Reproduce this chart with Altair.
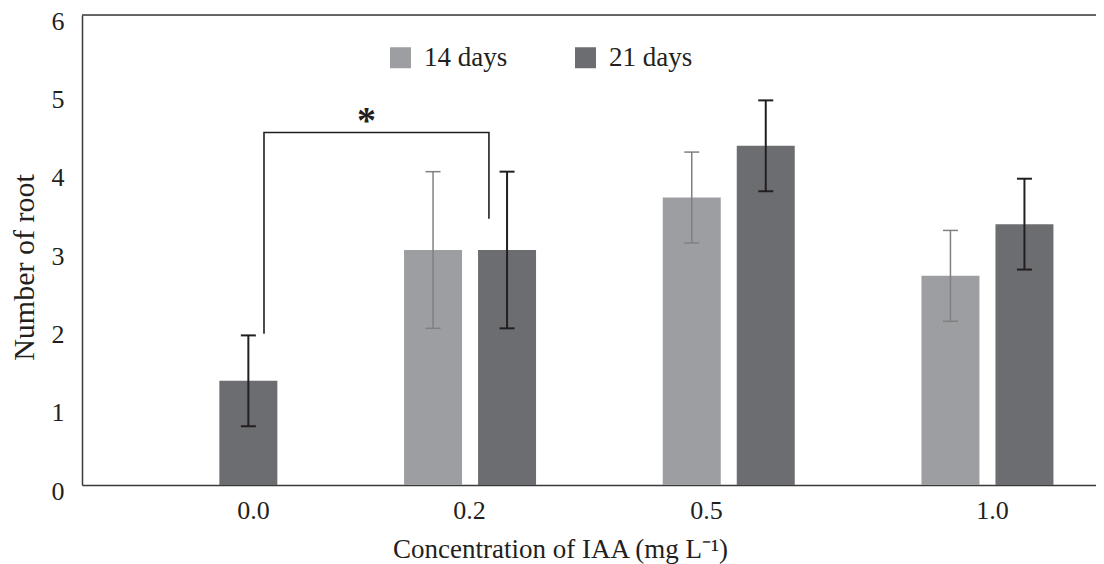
import altair as alt
import pandas as pd

# ---- data ----
concentrations = ["0.0", "0.2", "0.5", "1.0"]
series_names = ["14 days", "21 days"]
mean_14 = [0.0, 3.0, 3.67, 2.67]
sd_14 = [0.0, 1.0, 0.58, 0.58]
mean_21 = [1.33, 3.0, 4.33, 3.33]
sd_21 = [0.58, 1.0, 0.58, 0.58]
y_ticks = [0, 1, 2, 3, 4, 5, 6]

# significance annotation (data units)
sig_x = [0.7035, 1.573]
sig_top = 4.5
sig_bottom = [1.93, 3.40]
sig_label = "*"

# ---- layout constants ----
STEP_PX = 258.7
PLOT_W = 1014
PLOT_H = 470
X_MAX = PLOT_W / STEP_PX
BAR_OFFSET = 37 / STEP_PX
BAR_HALF = 29 / STEP_PX
CAP_HALF = 7.5 / STEP_PX
label_pos = [0.661, 1.496, 2.412, 3.518]

FONT = "Liberation Serif"
TXT = "#231f20"
C14, C21 = "#9d9ea2", "#6c6d71"
E14, E21 = "#808080", "#231f20"
AX = "#3a3a3a"

rows = []
for i, c in enumerate(concentrations):
    for s, m, sd, off in [
        (series_names[0], mean_14[i], sd_14[i], -BAR_OFFSET),
        (series_names[1], mean_21[i], sd_21[i], BAR_OFFSET),
    ]:
        ctr = i + 0.5 + off
        rows.append(dict(conc=c, series=s, mean=m, base=0.0, sd=sd, lo=m - sd, hi=m + sd,
                         xc=ctr, x0=ctr - BAR_HALF, x1=ctr + BAR_HALF,
                         c0=ctr - CAP_HALF, c1=ctr + CAP_HALF))
df = pd.DataFrame(rows)
eb = df[df["sd"] > 0]

xs = alt.Scale(domain=[0, X_MAX], nice=False, zero=False)
ys = alt.Scale(domain=[0, 6], nice=False)

label_expr = " : ".join(
    [f"datum.value < {i + 1} ? '{c}'" for i, c in enumerate(concentrations[:-1])]
) + f" : '{concentrations[-1]}'"

x_axis = alt.Axis(values=label_pos, labelExpr=label_expr, ticks=False, grid=False,
                  title="Concentration of IAA (mg L⁻¹)",
                  labelFont=FONT, titleFont=FONT, labelColor=TXT, titleColor=TXT,
                  labelFontSize=26, labelPadding=12, titleFontSize=27,
                  titleFontWeight="normal", titleX=478, titleY=64,
                  titleBaseline="middle", titleAnchor="start", titleAlign="center",
                  domainColor=AX, domainWidth=1.5)
y_axis = alt.Axis(values=y_ticks, format="d", ticks=False, grid=False,
                  title="Number of root",
                  labelFont=FONT, titleFont=FONT, labelColor=TXT, titleColor=TXT,
                  labelFontSize=26, labelPadding=18, labelOffset=6, labelFlush=False,
                  titleFontSize=30, titleFontWeight="normal",
                  titleX=-58, titleY=252, titleBaseline="middle", titleAlign="center",
                  titleAngle=-90, domainColor=AX, domainWidth=1.5)

bars = alt.Chart(df).mark_bar().encode(
    x=alt.X("x0:Q", scale=xs, axis=x_axis),
    x2="x1:Q",
    y=alt.Y("mean:Q", scale=ys, axis=y_axis),
    y2="base:Q",
    color=alt.Color("series:N", scale=alt.Scale(domain=series_names, range=[C14, C21]),
                    legend=alt.Legend(title=None, orient="none", direction="horizontal",
                                      legendX=305, legendY=29, symbolType="square",
                                      symbolSize=441, symbolStrokeWidth=0,
                                      labelFontSize=27, labelFont=FONT, labelOffset=10,
                                      columnPadding=64, padding=0, labelColor=TXT)),
)

ecolor = alt.condition(alt.datum.series == series_names[0], alt.value(E14), alt.value(E21))
ewidth = alt.condition(alt.datum.series == series_names[0], alt.value(1.5), alt.value(2))

err_v = alt.Chart(eb).mark_rule().encode(
    x=alt.X("xc:Q", scale=xs), y=alt.Y("lo:Q", scale=ys), y2="hi:Q",
    color=ecolor, strokeWidth=ewidth)
cap_hi = alt.Chart(eb).mark_rule().encode(
    x=alt.X("c0:Q", scale=xs), x2="c1:Q", y=alt.Y("hi:Q", scale=ys),
    color=ecolor, strokeWidth=ewidth)
cap_lo = alt.Chart(eb).mark_rule().encode(
    x=alt.X("c0:Q", scale=xs), x2="c1:Q", y=alt.Y("lo:Q", scale=ys),
    color=ecolor, strokeWidth=ewidth)

top_border = alt.Chart(pd.DataFrame({"y": [6]})).mark_rule(color=AX, strokeWidth=1.5).encode(
    y=alt.Y("y:Q", scale=ys))

bracket_df = pd.DataFrame({
    "x": [sig_x[0], sig_x[0], sig_x[1], sig_x[1]],
    "y": [sig_bottom[0], sig_top, sig_top, sig_bottom[1]],
    "o": [0, 1, 2, 3],
})
bracket = alt.Chart(bracket_df).mark_line(color=E21, strokeWidth=1.6).encode(
    x=alt.X("x:Q", scale=xs), y=alt.Y("y:Q", scale=ys), order="o:Q")

star = alt.Chart(pd.DataFrame({"x": [1.10], "y": [4.70], "t": [sig_label]})).mark_text(
    font=FONT, fontSize=38, fontWeight="bold", color=E21, baseline="middle", dy=5
).encode(x=alt.X("x:Q", scale=xs), y=alt.Y("y:Q", scale=ys), text="t:N")

chart = alt.layer(bars, err_v, cap_hi, cap_lo, top_border, bracket, star).properties(
    width=PLOT_W, height=PLOT_H,
    autosize=alt.AutoSizeParams(type="none"),
    padding={"left": 74, "top": 7, "right": 0, "bottom": 80},
).configure_view(stroke=None).configure(background="white")

chart.save("out.html", embed_options={"renderer": "svg", "actions": False})
